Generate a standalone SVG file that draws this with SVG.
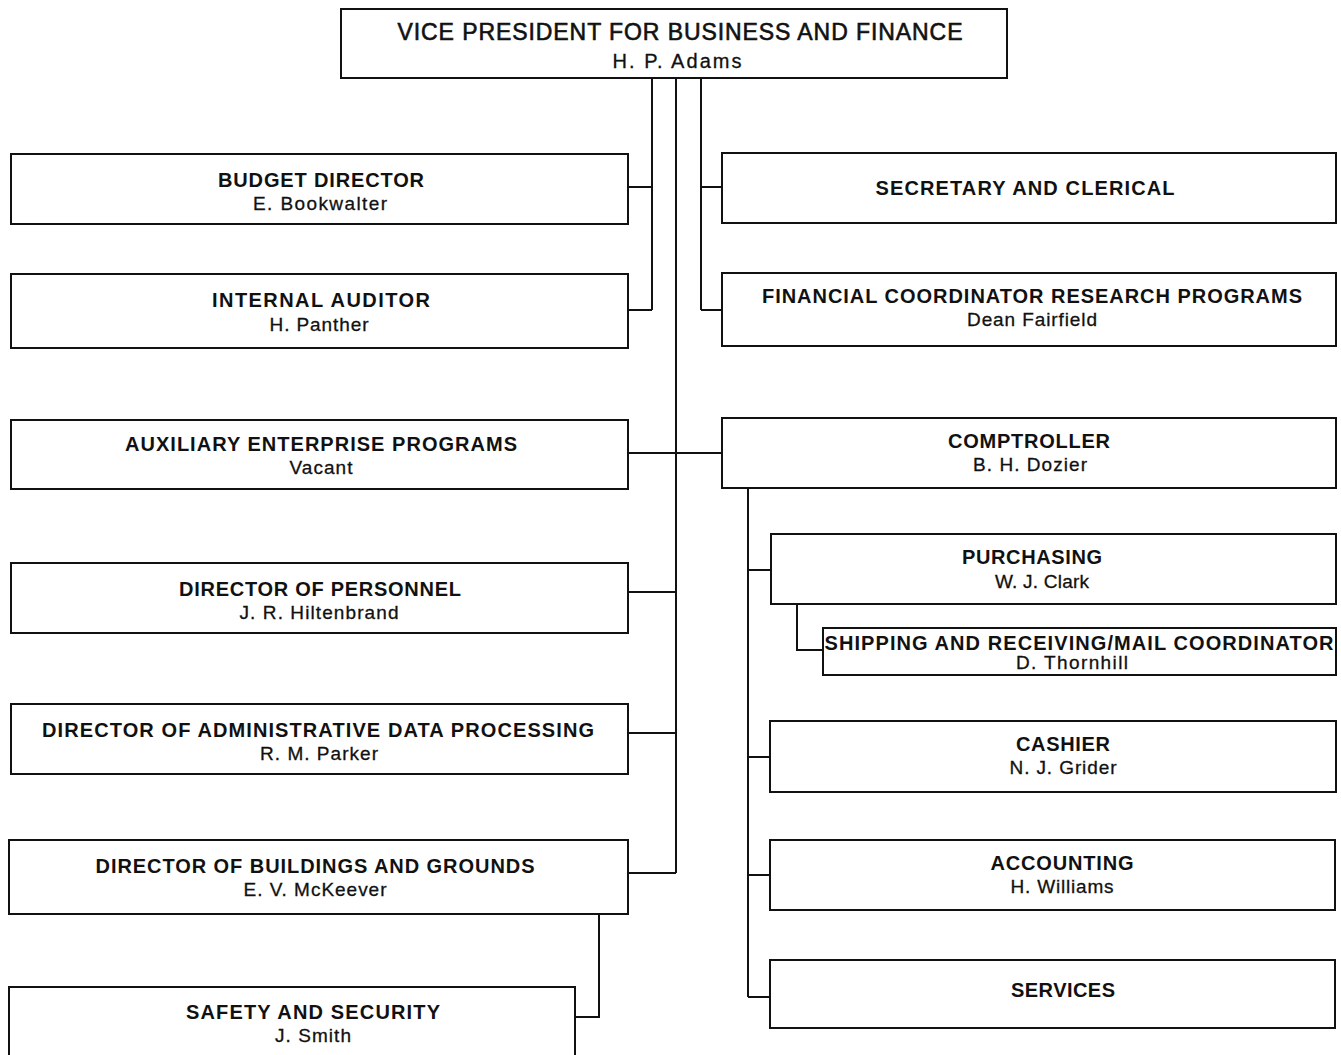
<svg xmlns="http://www.w3.org/2000/svg" width="1341" height="1055" viewBox="0 0 1341 1055">
<style>
.box{fill:#fff;stroke:#111;stroke-width:2}
.t{font-family:"Liberation Sans",Arial,sans-serif;font-size:20px;font-weight:bold;fill:#111;text-anchor:middle}
.n{font-family:"Liberation Sans",Arial,sans-serif;font-size:19px;fill:#111;text-anchor:middle;stroke:#111;stroke-width:0.3}
.vp{font-family:"Liberation Sans",Arial,sans-serif;font-size:23px;fill:#111;text-anchor:middle;stroke:#111;stroke-width:0.6}
.c{fill:none;stroke:#111;stroke-width:2}
</style>
<rect width="1341" height="1055" fill="#fff"/>
<g id="connectors" class="c">
<path d="M652 78V310M652 187H628M652 310H628"/>
<path d="M701 78V310M701 187H722M701 310H722"/>
<path d="M676 78V873M628 453H722M676 592H628M676 733H628M676 873H628"/>
<path d="M748 488V997M748 570H771M748 757H770M748 875H770M748 997H770"/>
<path d="M797 604V650H823"/>
<path d="M599 914V1017H575"/>
</g>
<g id="vp"><rect class="box" x="341" y="9" width="666" height="69"/>
<text class="vp" x="680" y="40" textLength="565" lengthAdjust="spacing">VICE PRESIDENT FOR BUSINESS AND FINANCE</text>
<text class="n" x="677" y="68" textLength="129" lengthAdjust="spacing" style="font-size:20px">H. P. Adams</text></g>
<g id="budget"><rect class="box" x="11" y="154" width="617" height="70"/>
<text class="t" x="321" y="187" textLength="206" lengthAdjust="spacing">BUDGET DIRECTOR</text>
<text class="n" x="320" y="210" textLength="134" lengthAdjust="spacing">E. Bookwalter</text></g>
<g id="auditor"><rect class="box" x="11" y="274" width="617" height="74"/>
<text class="t" x="321" y="307" textLength="218" lengthAdjust="spacing">INTERNAL AUDITOR</text>
<text class="n" x="319" y="331" textLength="99" lengthAdjust="spacing">H. Panther</text></g>
<g id="secretary"><rect class="box" x="722" y="153" width="614" height="70"/>
<text class="t" x="1025" y="195" textLength="299" lengthAdjust="spacing">SECRETARY AND CLERICAL</text></g>
<g id="financial"><rect class="box" x="722" y="273" width="614" height="73"/>
<text class="t" x="1032" y="303" textLength="540" lengthAdjust="spacing">FINANCIAL COORDINATOR RESEARCH PROGRAMS</text>
<text class="n" x="1032" y="326" textLength="130" lengthAdjust="spacing">Dean Fairfield</text></g>
<g id="auxiliary"><rect class="box" x="11" y="420" width="617" height="69"/>
<text class="t" x="321" y="451" textLength="392" lengthAdjust="spacing">AUXILIARY ENTERPRISE PROGRAMS</text>
<text class="n" x="321" y="474" textLength="63" lengthAdjust="spacing">Vacant</text></g>
<g id="comptroller"><rect class="box" x="722" y="418" width="614" height="70"/>
<text class="t" x="1029" y="448" textLength="162" lengthAdjust="spacing">COMPTROLLER</text>
<text class="n" x="1030" y="471" textLength="114" lengthAdjust="spacing">B. H. Dozier</text></g>
<g id="personnel"><rect class="box" x="11" y="563" width="617" height="70"/>
<text class="t" x="320" y="596" textLength="282" lengthAdjust="spacing">DIRECTOR OF PERSONNEL</text>
<text class="n" x="319" y="619" textLength="159" lengthAdjust="spacing">J. R. Hiltenbrand</text></g>
<g id="adp"><rect class="box" x="11" y="704" width="617" height="70"/>
<text class="t" x="318" y="737" textLength="552" lengthAdjust="spacing">DIRECTOR OF ADMINISTRATIVE DATA PROCESSING</text>
<text class="n" x="319" y="760" textLength="118" lengthAdjust="spacing">R. M. Parker</text></g>
<g id="buildings"><rect class="box" x="9" y="840" width="619" height="74"/>
<text class="t" x="315" y="873" textLength="439" lengthAdjust="spacing">DIRECTOR OF BUILDINGS AND GROUNDS</text>
<text class="n" x="315" y="896" textLength="143" lengthAdjust="spacing">E. V. McKeever</text></g>
<g id="safety"><rect class="box" x="9" y="987" width="566" height="80"/>
<text class="t" x="313" y="1019" textLength="254" lengthAdjust="spacing">SAFETY AND SECURITY</text>
<text class="n" x="313" y="1042" textLength="76" lengthAdjust="spacing">J. Smith</text></g>
<g id="purchasing"><rect class="box" x="771" y="534" width="565" height="70"/>
<text class="t" x="1032" y="564" textLength="140" lengthAdjust="spacing">PURCHASING</text>
<text class="n" x="1042" y="588" textLength="94" lengthAdjust="spacing">W. J. Clark</text></g>
<g id="shipping"><rect class="box" x="823" y="628" width="513" height="47"/>
<text class="t" x="1079" y="650" textLength="509" lengthAdjust="spacing">SHIPPING AND RECEIVING/MAIL COORDINATOR</text>
<text class="n" x="1072" y="669" textLength="112" lengthAdjust="spacing">D. Thornhill</text></g>
<g id="cashier"><rect class="box" x="770" y="721" width="566" height="71"/>
<text class="t" x="1063" y="751" textLength="94" lengthAdjust="spacing">CASHIER</text>
<text class="n" x="1063" y="774" textLength="107" lengthAdjust="spacing">N. J. Grider</text></g>
<g id="accounting"><rect class="box" x="770" y="840" width="565" height="70"/>
<text class="t" x="1062" y="870" textLength="143" lengthAdjust="spacing">ACCOUNTING</text>
<text class="n" x="1062" y="893" textLength="103" lengthAdjust="spacing">H. Williams</text></g>
<g id="services"><rect class="box" x="770" y="960" width="565" height="68"/>
<text class="t" x="1063" y="997" textLength="104" lengthAdjust="spacing">SERVICES</text></g>
</svg>
